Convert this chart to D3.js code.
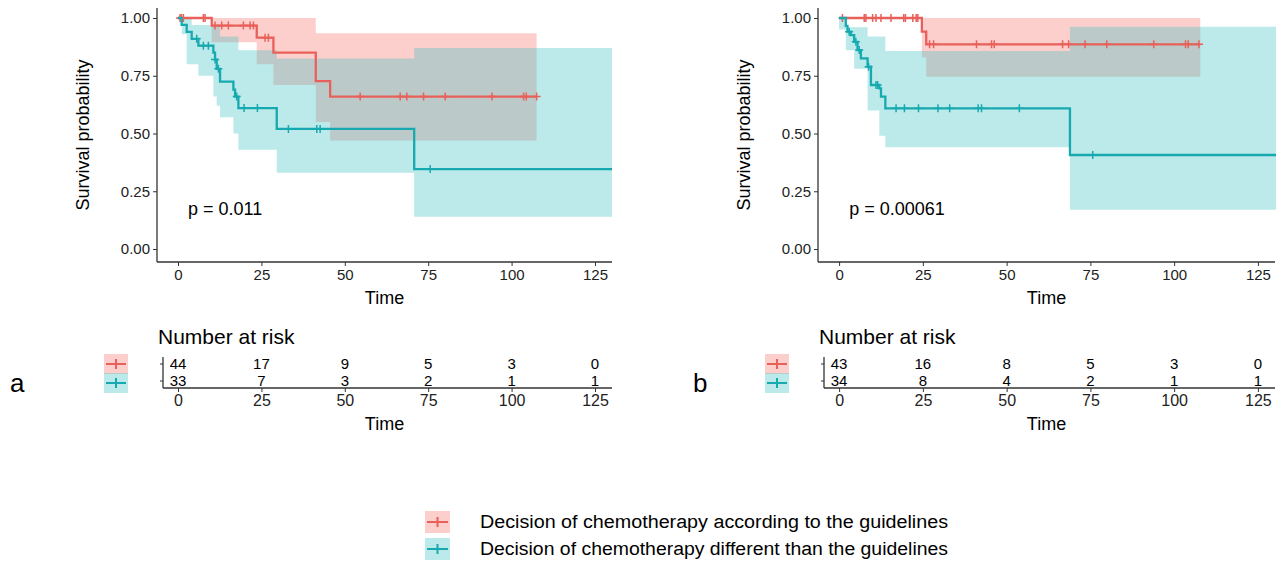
<!DOCTYPE html>
<html><head><meta charset="utf-8">
<script src="https://cdn.jsdelivr.net/npm/d3@7"></script>
<style>body{margin:0;background:#fff}text{font-family:"Liberation Sans",Arial,sans-serif}</style>
</head><body><svg width="1287" height="565"></svg>
<script>
// panel a
const aRedT = [0, 10.1, 23.6, 28.6, 41.3, 45.6];
const aRedS = [1, 0.967, 0.915, 0.85, 0.727, 0.66];
const aRedU = [1, 1, 1, 1, 0.934, 0.934];
const aRedL = [1, 0.895, 0.80, 0.71, 0.55, 0.47];
const aRedEnd = 107.5;
const aRedCens = [0.6, 1.0, 1.6, 7.6, 8.1, 11.1, 13.1, 15.1, 19.6, 21.6, 22.6, 26.1, 27.1, 54.6, 66.6, 68.6, 73.6, 80.1, 94.1, 103.6, 104.4, 107.5];
const aTealT = [0, 1.1, 2.6, 4.1, 6.1, 10.6, 11.1, 11.6, 12.6, 16.6, 17.1, 18.1, 29.6, 70.8];
const aTealS = [1, 0.97, 0.94, 0.91, 0.88, 0.85, 0.82, 0.78, 0.725, 0.69, 0.66, 0.61, 0.52, 0.346];
const aTealU = [1, 1, 1, 0.97, 0.97, 0.97, 0.97, 0.97, 0.92, 0.92, 0.92, 0.86, 0.825, 0.87];
const aTealL = [1, 0.93, 0.8, 0.8, 0.75, 0.66, 0.66, 0.62, 0.57, 0.5, 0.5, 0.43, 0.33, 0.14];
const aTealEnd = 130.1;
const aTealCens = [5.6, 7.6, 9.1, 11.1, 12.1, 17.6, 19.8, 23.8, 33.1, 41.6, 42.6, 75.6];
const aRisk = [[44, 17, 9, 5, 3, 0], [33, 7, 3, 2, 1, 1]];
// panel b
const bRedT = [0, 24.7, 26.0];
const bRedS = [1, 0.941, 0.886];
const bRedU = [1, 1, 1];
const bRedL = [1, 0.83, 0.746];
const bRedEnd = 107.8;
const bRedCens = [1.0, 7.5, 8.0, 10.0, 11.0, 12.5, 15.5, 19.3, 19.8, 22.0, 23.0, 23.5, 27.0, 28.2, 41.0, 45.5, 46.3, 66.7, 68.5, 73.4, 79.9, 93.9, 103.4, 104.2, 107.4];
const bTealT = [0, 2.0, 2.5, 3.5, 4.5, 5.5, 6.5, 8.5, 9.5, 12.0, 12.5, 13.8, 68.9];
const bTealS = [1, 0.966, 0.941, 0.926, 0.897, 0.861, 0.825, 0.789, 0.71, 0.695, 0.66, 0.609, 0.407];
const bTealU = [1, 0.96, 0.96, 0.96, 0.96, 0.96, 0.96, 0.92, 0.92, 0.92, 0.92, 0.857, 0.962];
const bTealL = [0.95, 0.86, 0.86, 0.86, 0.78, 0.78, 0.78, 0.6, 0.6, 0.49, 0.49, 0.44, 0.17];
const bTealEnd = 130.4;
const bTealCens = [3.0, 5.0, 6.0, 8.8, 11.0, 11.5, 17.0, 19.5, 23.7, 29.5, 33.0, 41.5, 42.5, 53.8, 75.7];
const bRisk = [[43, 16, 8, 5, 3, 0], [34, 8, 4, 2, 1, 1]];

const xTicks = [0, 25, 50, 75, 100, 125];
const yTicks = [0, 0.25, 0.5, 0.75, 1];
const red = "#F8766D", teal = "#3fbfc4", redLine = "#e8605a", tealLine = "#16aab0";
const legendLabels = ["Decision of chemotherapy according to the guidelines", "Decision of chemotherapy different than the guidelines"];

const svg = d3.select("svg");
const ink = "#333";

function steps(T, S, end) {
  const pts = T.map((t, i) => [t, S[i]]);
  pts.push([end, S[S.length - 1]]);
  return pts;
}

function panel(x0, x1, tag, groups, risk, pText, tagX) {
  const x = d3.scaleLinear().domain([-6.3, 130.1]).range([x0, x1]);
  const y = d3.scaleLinear().domain([0, 1]).range([249, 18]);
  const g = svg.append("g");
  const area = d3.area().curve(d3.curveStepAfter).x(d => x(d[0])).y0(d => y(d[1])).y1(d => y(d[2]));
  const line = d3.line().curve(d3.curveStepAfter).x(d => x(d[0])).y(d => y(d[1]));
  groups.forEach(gr => {
    const pts = gr.T.map((t, i) => [t, gr.L[i], gr.U[i]]);
    pts.push([gr.end, gr.L[gr.L.length - 1], gr.U[gr.U.length - 1]]);
    g.append("path").attr("d", area(pts)).attr("fill", gr.fill).attr("fill-opacity", 0.35);
  });
  groups.forEach(gr => {
    g.append("path").attr("d", line(steps(gr.T, gr.S, gr.end))).attr("fill", "none")
      .attr("stroke", gr.line).attr("stroke-width", 2.3);
    const surv = d3.scaleThreshold().domain(gr.T.slice(1)).range(gr.S);
    g.selectAll(null).data(gr.cens).join("path")
      .attr("d", d => `M${x(d) - 4},${y(surv(d))}h8M${x(d)},${y(surv(d)) - 4}v8`)
      .attr("stroke", gr.line).attr("stroke-width", 1.5);
  });
  // axes
  const xa = g.append("g").attr("transform", "translate(0,262)")
    .call(d3.axisBottom(x).tickValues(xTicks).tickSize(4).tickPadding(3));
  const ya = g.append("g").attr("transform", `translate(${x0},0)`)
    .call(d3.axisLeft(y).tickValues(yTicks).tickFormat(d3.format(".2f")).tickSize(4).tickPadding(3));
  [xa, ya].forEach(a => {
    a.select(".domain").attr("d", a === xa ? `M${x0},0H${x1}` : "M0,8V262").attr("stroke", ink).attr("stroke-width", 1.3);
    a.selectAll(".tick line").attr("stroke", ink);
    a.selectAll("text").attr("font-size", 15).attr("fill", "#222");
  });
  g.append("text").attr("x", (x0 + x1) / 2).attr("y", 304).attr("text-anchor", "middle").attr("font-size", 18).text("Time");
  g.append("text").attr("transform", `translate(${x0 - 68},135) rotate(-90)`).attr("text-anchor", "middle")
    .attr("font-size", 18).text("Survival probability");
  g.append("text").attr("x", x(3)).attr("y", 215).attr("font-size", 18).text(pText);

  // risk table
  g.append("text").attr("x", x0 + 1).attr("y", 344).attr("font-size", 21).text("Number at risk");
  const rowY = [364, 381];
  risk.forEach((row, r) => {
    g.selectAll(null).data(row).join("text")
      .attr("x", (d, i) => x(xTicks[i])).attr("y", rowY[r]).attr("dy", "0.35em")
      .attr("text-anchor", "middle").attr("font-size", 15).text(d => d);
    g.append("line").attr("x1", x0 + 3).attr("x2", x0 + 6).attr("y1", rowY[r]).attr("y2", rowY[r]).attr("stroke", ink);
    const c = r === 0 ? red : teal, cl = r === 0 ? redLine : tealLine;
    g.append("rect").attr("x", x0 - 53).attr("y", rowY[r] - 10 + r * 2).attr("width", 24).attr("height", 20)
      .attr("fill", c).attr("fill-opacity", 0.35);
    g.append("path").attr("d", `M${x0 - 51},${rowY[r] + r * 2}h20M${x0 - 41},${rowY[r] + r * 2 - 5}v10`)
      .attr("stroke", cl).attr("stroke-width", 2);
  });
  g.append("line").attr("x1", x0 + 6).attr("x2", x0 + 6).attr("y1", 357).attr("y2", 388).attr("stroke", ink).attr("stroke-width", 1.3);
  const ra = g.append("g").attr("transform", "translate(0,388)")
    .call(d3.axisBottom(x).tickValues(xTicks).tickSize(4).tickPadding(3));
  ra.select(".domain").attr("d", `M${x0 + 6},0H${x1}`).attr("stroke", ink).attr("stroke-width", 1.3);
  ra.selectAll(".tick line").attr("stroke", ink);
  ra.selectAll("text").attr("font-size", 16).attr("fill", "#222");
  g.append("text").attr("x", (x0 + x1) / 2).attr("y", 430).attr("text-anchor", "middle").attr("font-size", 18).text("Time");
  g.append("text").attr("x", tagX).attr("y", 392).attr("font-size", 26).text(tag);
}

panel(157, 612, "a", [
  { T: aRedT, S: aRedS, U: aRedU, L: aRedL, end: aRedEnd, cens: aRedCens, fill: red, line: redLine },
  { T: aTealT, S: aTealS, U: aTealU, L: aTealL, end: aTealEnd, cens: aTealCens, fill: teal, line: tealLine }
], aRisk, "p = 0.011", 10);
panel(818, 1275, "b", [
  { T: bRedT, S: bRedS, U: bRedU, L: bRedL, end: bRedEnd, cens: bRedCens, fill: red, line: redLine },
  { T: bTealT, S: bTealS, U: bTealU, L: bTealL, end: bTealEnd, cens: bTealCens, fill: teal, line: tealLine }
], bRisk, "p = 0.00061", 693);

// shared legend
legendLabels.forEach((lab, i) => {
  const ly = 522 + i * 27;
  svg.append("rect").attr("x", 425).attr("y", ly - 11).attr("width", 25).attr("height", 22)
    .attr("fill", i ? teal : red).attr("fill-opacity", 0.35);
  svg.append("path").attr("d", `M427,${ly}h21M437.5,${ly - 5}v10`).attr("stroke", i ? tealLine : redLine).attr("stroke-width", 2);
  svg.append("text").attr("x", 480).attr("y", ly).attr("dy", "0.35em").attr("font-size", 18)
    .attr("textLength", 468).attr("lengthAdjust", "spacingAndGlyphs").text(lab);
});
</script></body></html>
